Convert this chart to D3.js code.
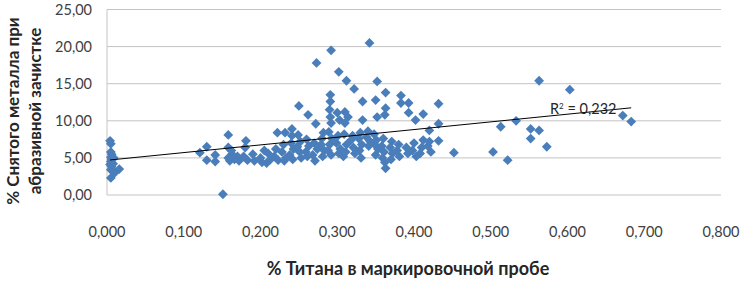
<!DOCTYPE html>
<html>
<head>
<meta charset="utf-8">
<script src="https://cdn.jsdelivr.net/npm/d3@7"></script>
<style>
  body { margin: 0; background: #fff; }
  text { font-family: Lato, "Open Sans", sans-serif; }
</style>
</head>
<body>
<svg id="chart"></svg>
<script>
const width = 744;
const height = 283;
const margin = { top: 9.5, right: 23, bottom: 88, left: 107 };

// % Titanium in the marking sample
const titan = [
  0.004, 0.005, 0.005, 0.006, 0.005, 0.006, 0.005, 0.004, 0.006, 0.005, 0.005, 0.009, 0.008, 0.016, 0.010,
  0.121, 0.130, 0.130, 0.141, 0.141, 0.151, 0.158, 0.158, 0.158,
  0.162, 0.160, 0.163, 0.166, 0.170, 0.172, 0.181, 0.180, 0.178, 0.183, 0.190, 0.192,
  0.200, 0.202, 0.205, 0.210, 0.212, 0.208, 0.222, 0.220, 0.218, 0.223,
  0.232, 0.230, 0.228, 0.233, 0.231, 0.241, 0.241, 0.240, 0.243, 0.238, 0.242,
  0.250, 0.249, 0.252, 0.248, 0.251, 0.253, 0.262, 0.260, 0.263, 0.259, 0.261,
  0.273, 0.272, 0.270, 0.274, 0.268, 0.271, 0.282, 0.280, 0.279, 0.283, 0.281,
  0.292, 0.291, 0.291, 0.290, 0.291, 0.292, 0.289, 0.293, 0.290, 0.288, 0.292,
  0.302, 0.300, 0.303, 0.301, 0.299, 0.304, 0.302,
  0.312, 0.310, 0.314, 0.310, 0.309, 0.312, 0.311, 0.308,
  0.322, 0.320, 0.318, 0.321, 0.323,
  0.333, 0.333, 0.330, 0.328, 0.332, 0.329, 0.331,
  0.342, 0.340, 0.338, 0.343, 0.341,
  0.352, 0.350, 0.352, 0.348, 0.351, 0.349, 0.353, 0.350,
  0.363, 0.363, 0.362, 0.360, 0.358, 0.361, 0.359, 0.362, 0.363,
  0.371, 0.369, 0.372, 0.370,
  0.383, 0.383, 0.380, 0.378, 0.381,
  0.393, 0.393, 0.390, 0.392,
  0.402, 0.400, 0.398, 0.403,
  0.412, 0.412, 0.410, 0.408,
  0.420, 0.420, 0.418, 0.422,
  0.432, 0.432, 0.432,
  0.452, 0.503, 0.513, 0.522, 0.533, 0.552, 0.552, 0.563, 0.563, 0.573, 0.603, 0.672, 0.683
];

// % Metal removed during abrasive cleaning
const metal = [
  7.3, 6.9, 5.8, 5.5, 5.1, 4.8, 4.5, 4.1, 3.8, 3.4, 2.3, 5.0, 4.2, 3.5, 3.0,
  5.7, 6.5, 4.7, 5.4, 4.5, 0.1, 8.1, 6.4, 5.0,
  6.0, 4.6, 5.5, 4.8, 5.2, 4.6, 7.3, 6.4, 5.2, 4.7, 5.5, 4.6,
  5.0, 4.4, 6.0, 5.6, 4.7, 4.3, 8.4, 6.2, 5.2, 4.7,
  8.4, 6.8, 5.8, 5.0, 4.6, 8.9, 8.0, 7.0, 6.2, 5.4, 4.8,
  12.0, 8.1, 7.2, 6.5, 5.8, 5.0, 10.8, 7.5, 6.6, 5.8, 5.2,
  17.8, 9.6, 7.0, 6.2, 5.4, 4.6, 8.4, 7.6, 6.8, 6.0, 5.2,
  19.5, 13.5, 12.6, 11.5, 10.5, 9.7, 8.5, 7.6, 6.8, 6.0, 5.4,
  16.6, 11.1, 10.1, 8.0, 7.0, 6.2, 5.6,
  15.4, 11.2, 10.5, 9.7, 8.2, 6.8, 5.8, 5.2,
  14.3, 8.0, 7.4, 6.4, 5.6,
  12.6, 10.1, 8.4, 7.6, 6.8, 6.0, 5.0,
  20.5, 8.6, 7.8, 7.2, 6.6,
  15.3, 12.8, 10.5, 8.2, 7.4, 6.8, 6.2, 5.4,
  13.8, 11.7, 10.8, 7.6, 6.6, 5.8, 5.0, 4.4, 3.6,
  7.2, 6.4, 5.6, 4.8,
  13.4, 12.4, 6.8, 6.0, 5.2,
  12.4, 11.1, 6.4, 5.6,
  10.1, 7.0, 6.0, 5.2,
  10.9, 7.4, 6.4, 5.6,
  8.7, 7.2, 6.6, 5.8,
  12.3, 9.6, 7.3,
  5.7, 5.8, 9.2, 4.7, 10.0, 8.9, 7.6, 8.7, 15.4, 6.5, 14.2, 10.7, 9.9
];

// linear trend
const trendSlope = 10.35;
const trendIntercept = 4.68;
const rSquared = "0,232";

const xTicks = [0, 0.1, 0.2, 0.3, 0.4, 0.5, 0.6, 0.7, 0.8];
const yTicks = [0, 5, 10, 15, 20, 25];

const ru = d3.formatLocale({ decimal: ",", thousands: " ", grouping: [3], currency: ["", " ₽"] });

const data = titan.map((x, i) => ({ x, y: metal[i] }));

const svg = d3.select("#chart")
    .attr("width", width)
    .attr("height", height);

const x = d3.scaleLinear()
    .domain([0, 0.8])
    .range([margin.left, width - margin.right]);

const y = d3.scaleLinear()
    .domain([0, 25])
    .range([height - margin.bottom, margin.top]);

// grid
svg.append("g")
    .selectAll("line")
    .data(yTicks)
    .join("line")
    .attr("x1", margin.left).attr("x2", width - margin.right)
    .attr("y1", d => y(d)).attr("y2", d => y(d))
    .attr("stroke", "#c4c4c4")
    .attr("stroke-width", 1);

// y axis line
svg.append("line")
    .attr("x1", margin.left).attr("x2", margin.left)
    .attr("y1", y(0)).attr("y2", y(25))
    .attr("stroke", "#c4c4c4");

// tick labels
svg.append("g")
    .selectAll("text")
    .data(yTicks)
    .join("text")
    .attr("x", margin.left - 15)
    .attr("y", d => y(d))
    .attr("dy", "0.35em")
    .attr("text-anchor", "end")
    .style("font-size", "14.5px")
    .attr("fill", "#404040")
    .text(d => ru.format(".2f")(d));

svg.append("g")
    .selectAll("text")
    .data(xTicks)
    .join("text")
    .attr("x", d => x(d))
    .attr("y", 237)
    .attr("text-anchor", "middle")
    .style("font-size", "14.5px")
    .attr("fill", "#404040")
    .text(d => ru.format(".3f")(d));

// axis titles
svg.append("text")
    .attr("x", 408)
    .attr("y", 275)
    .attr("text-anchor", "middle")
    .style("font-size", "18px")
    .style("font-weight", "bold")
    .attr("fill", "#262626")
    .text("% Титана в маркировочной пробе");

const yTitle = svg.append("text")
    .attr("transform", "translate(19, 111) rotate(-90)")
    .attr("text-anchor", "middle")
    .style("font-size", "17px")
    .style("font-weight", "bold")
    .attr("fill", "#262626");
yTitle.append("tspan").attr("x", 0).attr("y", 0).text("% Снятого металла при");
yTitle.append("tspan").attr("x", 0).attr("y", 22).text("абразивной зачистке");

// points
const diamond = d3.symbol().type(d3.symbolSquare).size(48);
svg.append("g")
    .selectAll("path")
    .data(data)
    .join("path")
    .attr("d", diamond)
    .attr("transform", d => `translate(${x(d.x)},${y(d.y)}) rotate(45)`)
    .attr("fill", "#4a7ebb");

// trend line
const xMin = d3.min(titan);
const xMax = d3.max(titan);
svg.append("line")
    .attr("x1", x(xMin)).attr("y1", y(trendIntercept + trendSlope * xMin))
    .attr("x2", x(xMax)).attr("y2", y(trendIntercept + trendSlope * xMax))
    .attr("stroke", "#000")
    .attr("stroke-width", 1);

const rLabel = svg.append("text")
    .attr("x", 550)
    .attr("y", 114)
    .style("font-size", "14.5px")
    .attr("fill", "#262626");
rLabel.append("tspan").text("R");
rLabel.append("tspan").attr("dy", -5).style("font-size", "8px").text("2");
rLabel.append("tspan").attr("dy", 5).text(" = " + rSquared);
</script>
</body>
</html>
